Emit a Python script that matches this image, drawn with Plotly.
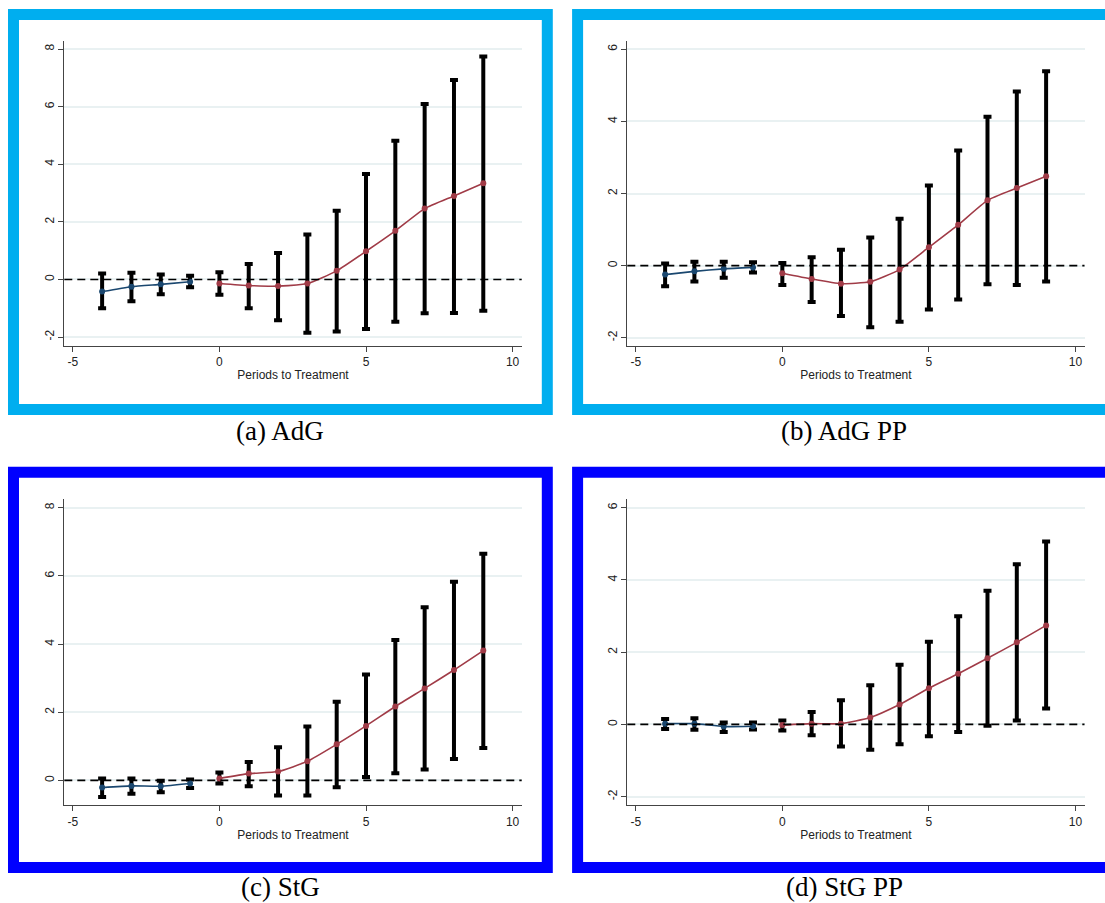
import plotly.graph_objects as go

W, H = 1105, 903

# ---------------- data ----------------
periods_pre = [-4, -3, -2, -1]
periods_post = [0, 1, 2, 3, 4, 5, 6, 7, 8, 9]

# (a) AdG
a_pre_est = [-0.42, -0.25, -0.17, -0.08]
a_pre_lo = [-1.00, -0.76, -0.51, -0.27]
a_pre_hi = [0.21, 0.23, 0.17, 0.13]
a_post_est = [-0.14, -0.21, -0.23, -0.14, 0.30, 0.98, 1.69, 2.46, 2.90, 3.34]
a_post_lo = [-0.53, -1.00, -1.42, -1.85, -1.81, -1.72, -1.47, -1.17, -1.16, -1.09]
a_post_hi = [0.25, 0.54, 0.92, 1.56, 2.39, 3.66, 4.82, 6.09, 6.93, 7.74]

# (b) AdG PP
b_pre_est = [-0.25, -0.16, -0.09, -0.05]
b_pre_lo = [-0.57, -0.44, -0.34, -0.19]
b_pre_hi = [0.06, 0.11, 0.11, 0.09]
b_post_est = [-0.21, -0.37, -0.50, -0.45, -0.11, 0.51, 1.13, 1.81, 2.15, 2.48]
b_post_lo = [-0.54, -1.01, -1.40, -1.71, -1.56, -1.22, -0.94, -0.52, -0.54, -0.44]
b_post_hi = [0.07, 0.23, 0.44, 0.78, 1.30, 2.22, 3.19, 4.13, 4.83, 5.39]

# (c) StG
c_pre_est = [-0.21, -0.16, -0.17, -0.09]
c_pre_lo = [-0.49, -0.39, -0.35, -0.22]
c_pre_hi = [0.06, 0.06, -0.01, 0.03]
c_post_est = [0.06, 0.20, 0.26, 0.56, 1.06, 1.60, 2.17, 2.70, 3.24, 3.81]
c_post_lo = [-0.09, -0.17, -0.44, -0.44, -0.20, 0.10, 0.21, 0.32, 0.63, 0.95]
c_post_hi = [0.23, 0.54, 0.97, 1.58, 2.31, 3.11, 4.12, 5.08, 5.83, 6.65]

# (d) StG PP
d_pre_est = [0.02, 0.02, -0.06, -0.05]
d_pre_lo = [-0.13, -0.15, -0.21, -0.14]
d_pre_hi = [0.15, 0.17, 0.05, 0.05]
d_post_est = [-0.02, 0.02, 0.02, 0.19, 0.55, 1.00, 1.40, 1.83, 2.27, 2.74]
d_post_lo = [-0.17, -0.30, -0.61, -0.70, -0.55, -0.33, -0.21, -0.04, 0.11, 0.44]
d_post_hi = [0.11, 0.34, 0.67, 1.08, 1.65, 2.29, 2.99, 3.70, 4.43, 5.06]

captions = ["(a) AdG", "(b) AdG PP", "(c) StG", "(d) StG PP"]
x_title = "Periods to Treatment"
x_ticks = [-5, 0, 5, 10]
x_tick_labels = ["-5", "0", "5", "10"]
y_ticks_wide = [-2, 0, 2, 4, 6, 8]
y_tick_labels_wide = ["-2", "0", "2", "4", "6", "8"]
y_ticks_pp = [-2, 0, 2, 4, 6]
y_tick_labels_pp = ["-2", "0", "2", "4", "6"]

# ---------------- styling / layout ----------------
PRE_COLOR = "#1a476f"
POST_COLOR = "#a03b47"
LIGHT_BLUE = "#00aeef"
DARK_BLUE = "#0000ff"
GRID = "#e9f1f2"
TICK_FONT = dict(family="Liberation Sans, Arial", size=12, color="#222222")

def px_x(p):
    return p / W

def px_y(p):
    return 1 - p / H

panels = [
    dict(pre=(a_pre_est, a_pre_lo, a_pre_hi), post=(a_post_est, a_post_lo, a_post_hi),
         xdom=(64.3, 521.7), ydom=(41, 346), yrange=(-2.31, 8.28), frame=LIGHT_BLUE,
         yt=(y_ticks_wide, y_tick_labels_wide),
         fx=(13.5, 547.3), fy=(14.5, 409.5), cap=(280, 431)),
    dict(pre=(b_pre_est, b_pre_lo, b_pre_hi), post=(b_post_est, b_post_lo, b_post_hi),
         xdom=(627.3, 1084.5), ydom=(41, 346), yrange=(-2.23, 6.23), frame=LIGHT_BLUE,
         yt=(y_ticks_pp, y_tick_labels_pp),
         fx=(577.6, 1120), fy=(14.5, 409.5), cap=(844, 431)),
    dict(pre=(c_pre_est, c_pre_lo, c_pre_hi), post=(c_post_est, c_post_lo, c_post_hi),
         xdom=(64.3, 521.7), ydom=(499.3, 805.3), yrange=(-0.73, 8.25), frame=DARK_BLUE,
         yt=(y_ticks_wide, y_tick_labels_wide),
         fx=(13.5, 547.3), fy=(472.2, 867.4), cap=(280, 887)),
    dict(pre=(d_pre_est, d_pre_lo, d_pre_hi), post=(d_post_est, d_post_lo, d_post_hi),
         xdom=(627.3, 1084.5), ydom=(499.3, 805.3), yrange=(-2.24, 6.23), frame=DARK_BLUE,
         yt=(y_ticks_pp, y_tick_labels_pp),
         fx=(577.6, 1120), fy=(472.2, 867.4), cap=(844, 887)),
]

fig = go.Figure()
shapes = []
annotations = []
layout = {}

for i, p in enumerate(panels):
    n = "" if i == 0 else str(i + 1)
    xa, ya = "x" + n, "y" + n

    for (periods, (est, lo, hi), color) in [
        (periods_pre, p["pre"], PRE_COLOR),
        (periods_post, p["post"], POST_COLOR),
    ]:
        fig.add_trace(go.Scatter(
            x=periods, y=est, xaxis=xa, yaxis=ya, mode="lines+markers",
            line=dict(color=color, width=1.6, shape="spline", smoothing=0.5),
            marker=dict(color=color, size=6),
            error_y=dict(type="data", symmetric=False,
                         array=[h - e for h, e in zip(hi, est)],
                         arrayminus=[e - l for e, l in zip(est, lo)],
                         color="black", thickness=4, width=4),
            showlegend=False, hoverinfo="skip",
        ))

    layout["xaxis" + n] = dict(
        domain=[px_x(p["xdom"][0]), px_x(p["xdom"][1])], anchor=ya,
        range=[-5.29, 10.31], tickmode="array", tickvals=x_ticks, ticktext=x_tick_labels,
        showgrid=False, zeroline=False,
        showline=True, linecolor="#444444", linewidth=1,
        ticks="outside", ticklen=5, tickcolor="#444444", tickfont=TICK_FONT,
        title=dict(text=x_title, font=TICK_FONT, standoff=2),
    )
    layout["yaxis" + n] = dict(
        domain=[px_y(p["ydom"][1]), px_y(p["ydom"][0])], anchor=xa,
        range=list(p["yrange"]), tickmode="array", tickvals=p["yt"][0], ticktext=p["yt"][1],
        showgrid=True, gridcolor=GRID,
        gridwidth=1.5, zeroline=False, showline=True, linecolor="#444444", linewidth=1,
        ticks="outside", ticklen=5, tickcolor="#444444", tickfont=TICK_FONT,
        tickangle=-90,
    )

    # dashed reference line at zero
    shapes.append(dict(type="line", xref=xa + " domain", yref=ya, x0=0, x1=1, y0=0, y1=0,
                       line=dict(color="black", width=1.6, dash="8px,5px"), layer="above"))
    # coloured frame
    shapes.append(dict(type="rect", xref="paper", yref="paper",
                       x0=px_x(p["fx"][0]), x1=px_x(p["fx"][1]),
                       y0=px_y(p["fy"][1]), y1=px_y(p["fy"][0]),
                       line=dict(color=p["frame"], width=11), fillcolor="rgba(0,0,0,0)",
                       layer="below"))
    annotations.append(dict(text=captions[i], xref="paper", yref="paper",
                            x=px_x(p["cap"][0]), y=px_y(p["cap"][1]),
                            xanchor="center", yanchor="middle", showarrow=False,
                            font=dict(family="Liberation Serif, Times New Roman, serif",
                                      size=27, color="black")))

fig.update_layout(
    width=W, height=H, margin=dict(l=0, r=0, t=0, b=0),
    paper_bgcolor="white", plot_bgcolor="white",
    shapes=shapes, annotations=annotations, **layout,
)

fig.write_html(
    "out.html",
    config={"displayModeBar": False},
    post_script="document.body.style.margin='0px';document.body.style.overflow='hidden';",
)
